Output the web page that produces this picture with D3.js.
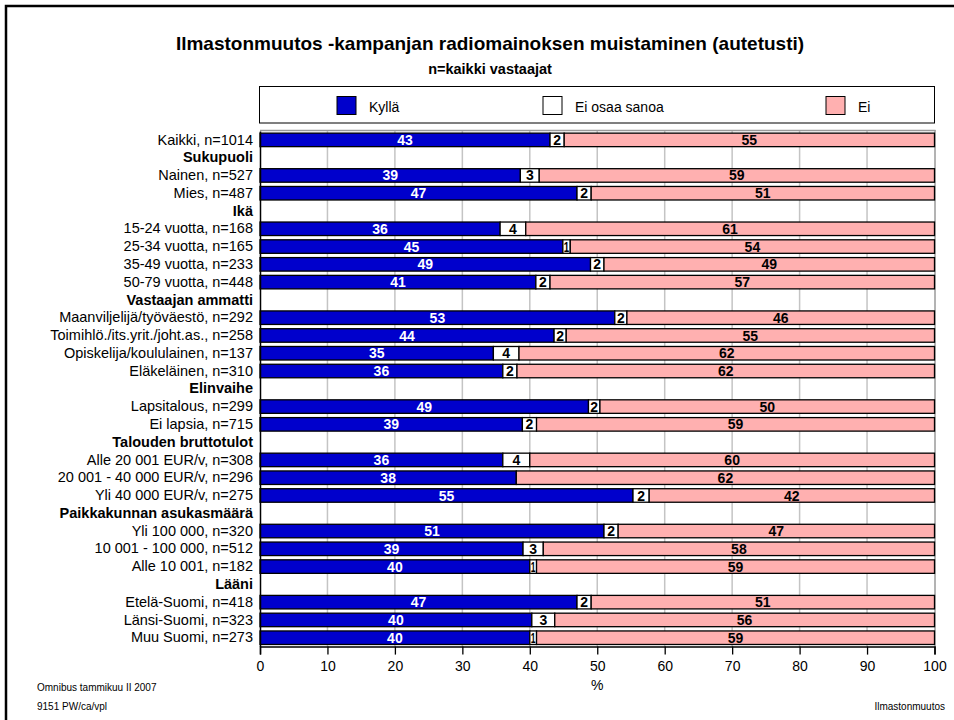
<!DOCTYPE html>
<html>
<head>
<meta charset="utf-8">
<script src="https://cdn.jsdelivr.net/npm/d3@7"></script>
<style>
  html, body { margin: 0; padding: 0; background: #fff; }
  svg { display: block; font-family: "Liberation Sans", Arial, Helvetica, sans-serif; }
</style>
</head>
<body>
<svg id="chart" width="954" height="720"></svg>
<script>
const categories = [
  "Kaikki, n=1014", "Sukupuoli", "Nainen, n=527", "Mies, n=487",
  "Ikä", "15-24 vuotta, n=168", "25-34 vuotta, n=165", "35-49 vuotta, n=233", "50-79 vuotta, n=448",
  "Vastaajan ammatti", "Maanviljelijä/työväestö, n=292", "Toimihlö./its.yrit./joht.as., n=258",
  "Opiskelija/koululainen, n=137", "Eläkeläinen, n=310",
  "Elinvaihe", "Lapsitalous, n=299", "Ei lapsia, n=715",
  "Talouden bruttotulot", "Alle 20 001 EUR/v, n=308", "20 001 - 40 000 EUR/v, n=296", "Yli 40 000 EUR/v, n=275",
  "Paikkakunnan asukasmäärä", "Yli 100 000, n=320", "10 001 - 100 000, n=512", "Alle 10 001, n=182",
  "Lääni", "Etelä-Suomi, n=418", "Länsi-Suomi, n=323", "Muu Suomi, n=273"
];
const headers = ["Sukupuoli", "Ikä", "Vastaajan ammatti", "Elinvaihe", "Talouden bruttotulot", "Paikkakunnan asukasmäärä", "Lääni"];
const seriesNames = ["Kyllä", "Ei osaa sanoa", "Ei"];
const kylla = [43.0, null, 38.6, 47.0, null, 35.6, 44.9, 49.0, 40.9, null, 52.6, 43.6, 34.6, 36.0, null, 48.7, 38.9, null, 36.0, 38.0, 55.3, null, 51.0, 39.0, 40.0, null, 47.0, 40.3, 40.0];
const eos   = [2.1, null, 2.8, 2.1, null, 3.8, 1.1, 2.0, 2.1, null, 1.8, 1.8, 3.8, 2.1, null, 1.7, 2.1, null, 4.0, 0, 2.4, null, 2.1, 3.0, 1.0, null, 2.1, 3.4, 1.0];
const ei    = [54.9, null, 58.6, 50.9, null, 60.6, 54.0, 49.0, 57.0, null, 45.6, 54.6, 61.6, 61.9, null, 49.6, 59.0, null, 60.0, 62.0, 42.3, null, 46.9, 58.0, 59.0, null, 50.9, 56.3, 59.0];
const xTicks = [0, 10, 20, 30, 40, 50, 60, 70, 80, 90, 100];
const colors = ["#0000cc", "#ffffff", "#ffb0b0"];
const labelColors = ["#ffffff", "#000000", "#000000"];

const svg = d3.select("#chart");
const FONT = "'Liberation Sans', Arial, Helvetica, sans-serif";

// outer frame
svg.append("rect").attr("x", 6).attr("y", 6).attr("width", 1000).attr("height", 1000)
  .attr("fill", "none").attr("stroke", "#000").attr("stroke-width", 2.5);

// titles
svg.append("text").attr("x", 490).attr("y", 50).attr("text-anchor", "middle")
  .attr("font-size", 19).attr("font-weight", "bold")
  .text("Ilmastonmuutos -kampanjan radiomainoksen muistaminen (autetusti)");
svg.append("text").attr("x", 490).attr("y", 74).attr("text-anchor", "middle")
  .attr("font-size", 14.5).attr("font-weight", "bold")
  .text("n=kaikki vastaajat");

const x = d3.scaleLinear().domain([0, 100]).range([260, 934.5]);
const y = d3.scaleBand().domain(categories).range([131, 646.6]).paddingInner(0.24).paddingOuter(0.12);

// legend
svg.append("rect").attr("x", 259.5).attr("y", 86.5).attr("width", 675).attr("height", 36.5)
  .attr("fill", "#fff").attr("stroke", "#000").attr("stroke-width", 1);
const legendX = [337, 543, 826];
const lg = svg.append("g").selectAll("g").data(seriesNames).join("g")
  .attr("transform", (d, i) => `translate(${legendX[i]},96.5)`);
lg.append("rect").attr("width", 19).attr("height", 18)
  .attr("fill", (d, i) => colors[i]).attr("stroke", "#000").attr("stroke-width", 1);
lg.append("text").attr("x", 32).attr("y", 15).attr("font-size", 14).text(d => d);

// gridlines
svg.append("g").selectAll("line").data(xTicks.filter(t => t > 0 && t < 100)).join("line")
  .attr("x1", d => x(d)).attr("x2", d => x(d)).attr("y1", 131).attr("y2", 646.6)
  .attr("stroke", "#c4c4c4").attr("stroke-width", 1.5);
// plot frame (gray top/right)
svg.append("line").attr("x1", 260).attr("x2", 935.5).attr("y1", 130.5).attr("y2", 130.5)
  .attr("stroke", "#9a9a9a").attr("stroke-width", 1.5);
svg.append("line").attr("x1", 935).attr("x2", 935).attr("y1", 130).attr("y2", 646.6)
  .attr("stroke", "#9a9a9a").attr("stroke-width", 1.5);

// data rows
const rows = categories.map((c, i) => ({ cat: c, k: kylla[i], e: eos[i], n: ei[i] }))
  .filter(r => r.k !== null);
const stack = d3.stack().keys(["k", "e", "n"]);
const stacked = stack(rows);

const gBars = svg.append("g");
stacked.forEach((layer, si) => {
  const g = gBars.append("g");
  g.selectAll("rect").data(layer.filter(d => d[1] - d[0] > 0)).join("rect")
    .attr("x", d => x(d[0])).attr("y", d => y(d.data.cat))
    .attr("width", d => x(d[1]) - x(d[0])).attr("height", y.bandwidth())
    .attr("fill", colors[si]).attr("stroke", "#000").attr("stroke-width", 1.3);
});
stacked.forEach((layer, si) => {
  const g = gBars.append("g");
  g.selectAll("text").data(layer.filter(d => Math.round(d[1] - d[0]) > 0)).join("text")
    .attr("x", d => (x(d[0]) + x(d[1])) / 2)
    .attr("y", d => y(d.data.cat) + y.bandwidth() / 2)
    .attr("dy", "0.36em").attr("text-anchor", "middle")
    .attr("font-size", 14).attr("font-weight", "bold").attr("fill", labelColors[si])
    .text(d => Math.round(d[1] - d[0]))
    .each(function (d) {
      const w = x(d[1]) - x(d[0]) - 2;
      const tl = this.getComputedTextLength();
      if (tl > w) {
        d3.select(this).attr("textLength", Math.max(w, 4)).attr("lengthAdjust", "spacingAndGlyphs");
      }
    });
});

// left axis (category labels)
const yAxis = svg.append("g").attr("transform", "translate(260,0)")
  .call(d3.axisLeft(y).tickSize(0).tickPadding(7));
yAxis.select(".domain").attr("stroke", "#000").attr("stroke-width", 1.5);
yAxis.selectAll("text").attr("font-size", 14.5).attr("font-family", FONT).attr("fill", "#000")
  .attr("font-weight", d => headers.includes(d) ? "bold" : "normal");

// bottom axis
const xAxis = svg.append("g").attr("transform", "translate(0,646.6)")
  .call(d3.axisBottom(x).tickValues(xTicks).tickSize(8).tickPadding(6).tickFormat(d3.format("d")));
xAxis.select(".domain").attr("stroke", "#000").attr("stroke-width", 1.5);
xAxis.selectAll(".tick line").attr("stroke", "#000").attr("stroke-width", 1.3);
xAxis.selectAll("text").attr("font-size", 14).attr("font-family", FONT).attr("fill", "#000");

svg.append("text").attr("x", x(50)).attr("y", 690).attr("text-anchor", "middle")
  .attr("font-size", 14).text("%");

// footer
svg.append("text").attr("x", 37).attr("y", 691).attr("font-size", 10).text("Omnibus tammikuu II 2007");
svg.append("text").attr("x", 37).attr("y", 710).attr("font-size", 10).text("9151 PW/ca/vpl");
svg.append("text").attr("x", 945).attr("y", 710).attr("text-anchor", "end").attr("font-size", 10).text("Ilmastonmuutos");
</script>
</body>
</html>
